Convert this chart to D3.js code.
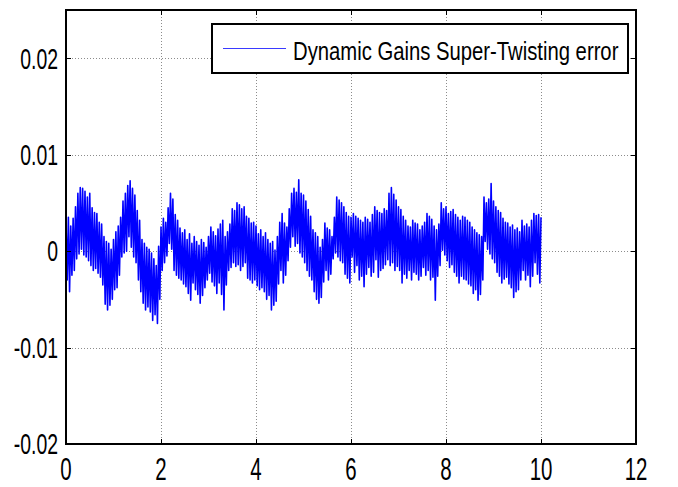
<!DOCTYPE html>
<html>
<head>
<meta charset="utf-8">
<script src="https://cdn.jsdelivr.net/npm/d3@7/dist/d3.min.js"></script>
<style>
  html, body { margin: 0; padding: 0; background: #fff; }
  svg { display: block; }
  text { font-family: "Liberation Sans", Arial, sans-serif; fill: #000; }
</style>
</head>
<body>
<svg id="chart" width="678" height="487"></svg>
<script>
// ---- data (values in units of 1e-3) ----
const xTicks = [0, 2, 4, 6, 8, 10, 12];
const xTickLabels = ["0", "2", "4", "6", "8", "10", "12"];
const yTicks = [-0.02, -0.01, 0, 0.01, 0.02];
const yTickLabels = ["-0.02", "-0.01", "0", "0.01", "0.02"];
const legendLabel = "Dynamic Gains Super-Twisting error";
const valueUnit = 1e-3;
const peakPeriod = 0.05; // seconds between successive maxima
// successive local maxima, at t = 0, 0.05, 0.10, ... 10
const upperPeaks = [
  3.0, 3.5, 2.6, 3.4, 4.6,
  6.0, 6.6, 6.5, 6.2, 5.6, 6.0,
  4.5, 4.0, 3.9, 3.0, 2.8,   1.5, 1.0, 0.8, 0.2, 1.2,
  2.0, 2.6, 3.5, 5.2, 6.0,   6.8, 7.3, 6.5, 5.8, 4.2,
  3.2, 1.2, 0.8, 0.4, 0.2,   -0.2, -0.8, -1.5, 0.5, 2.5,
  3.4, 3.0, 4.5, 6.0, 5.4,   3.8, 3.2, 2.4, 1.9, 2.2,
  1.2, 1.8, 0.8, 1.5, 1.0,   0.6, 1.2, 0.9, 0.4, 1.5,
  2.5, 2.0, 1.6, 2.3, 2.8,   3.2, 1.5, 2.0, 2.8, 4.4,
  4.2, 5.0, 4.8, 4.4, 4.6,   3.6, 3.4, 2.9, 3.0, 2.6,
  1.8, 2.2, 1.5, 1.9, 1.2,   0.8, 1.0, 0.1, 1.5, 3.0,
  3.9, 2.9, 2.5, 4.4, 6.0,   6.5, 6.1, 7.4, 6.0, 5.8,
  5.2, 4.3, 3.6, 2.2, 1.9,   1.5, 0.4, 1.2, 2.9, 2.4,
  2.2, 1.5, 3.5, 5.6, 5.3,   5.0, 4.6, 4.0, 3.6, 3.5,
  3.9, 3.6, 3.4, 3.2, 3.0,   3.5, 3.3, 3.0, 3.8, 4.6,
  4.2, 4.0, 3.9, 4.4, 4.2,   6.0, 6.6, 5.9, 5.3, 4.6,
  4.3, 3.6, 3.2, 2.6, 2.5,   3.2, 2.9, 2.8, 2.2, 2.6,
  3.0, 3.9, 3.6, 3.3, 2.6,   2.2, 2.8, 5.0, 4.4, 4.6,
  3.9, 4.1, 4.3, 3.8, 3.5,   3.2, 3.6, 3.5, 3.2, 3.0,
  2.5, 2.2, 1.9, 1.7, 1.5,   5.6, 5.0, 5.4, 7.0, 5.2,
  4.6, 4.2, 4.0, 3.4, 3.0,   2.9, 2.5, 2.7, 2.2, 2.4,
  2.0, 3.2, 2.6, 2.8, 2.5,   3.2, 3.9, 3.7, 3.8, 3.5];
// successive local minima, at t = 0.025, 0.075, ... 9.975
const lowerPeaks = [
  -3.0, -4.2, -2.5, -2.0, -0.8,   -0.3, 0.2, -0.4, -0.6, -1.0,
  -1.5, -2.0, -1.8, -2.3, -2.7,   -3.5, -5.5, -6.1, -5.6, -5.0,
  -4.0, -3.8, -2.5, -0.6, -0.2,   0.0, 1.5, 0.4, -0.6, -1.2,
  -3.0, -4.2, -5.4, -6.1, -5.8,   -6.3, -7.2, -6.6, -7.5, -5.0,
  -2.0, -1.2, -0.5, 0.8, 0.2,     -2.0, -2.5, -2.8, -3.0, -3.4,
  -3.7, -4.4, -5.1, -3.3, -4.0,   -4.5, -5.4, -4.6, -3.8, -3.0,
  -2.3, -3.2, -3.6, -4.4, -3.3,   -4.5, -6.1, -3.5, -2.0, -1.7,
  -1.2, -1.6, -1.4, -2.0, -1.6,   -1.2, -2.8, -3.0, -3.3, -3.0,
  -3.6, -4.0, -3.8, -4.2, -5.0,   -4.6, -6.1, -5.6, -5.2, -3.4,
  -2.0, -3.3, -2.5, -1.0, 0.4,    1.5, 0.5, 0.8, -0.2, -0.6,
  -1.2, -2.0, -2.6, -3.0, -4.2,   -5.0, -5.4, -4.8, -3.2, -2.0,
  -3.0, -2.4, -0.8, -0.2, -0.6,   -1.0, -1.2, -2.4, -2.8, -3.3,
  -0.6, -2.2, -1.5, -3.0, -2.6,   -3.7, -2.4, -1.7, -2.6, -2.2,
  -0.9, -2.7, -2.0, -1.8, -1.4,   -0.9, -1.5, -1.2, -2.0, -1.6,
  -2.0, -3.3, -2.4, -2.8, -2.0,   -3.0, -2.2, -2.4, -3.0, -2.6,
  -1.7, -2.5, -2.0, -3.0, -2.7,   -5.1, -2.6, -1.5, 0.1, -0.4,
  -1.0, -1.7, -1.4, -2.2, -2.6,   -3.3, -2.6, -2.9, -3.0, -3.4,
  -3.6, -4.4, -4.0, -5.1, -4.5,   -3.0, 1.0, 0.2, -0.3, -0.8,
  -1.2, -2.2, -2.6, -3.3, -2.9,   -2.7, -3.4, -3.8, -4.8, -4.2,
  -4.0, -3.0, -2.0, -3.0, -2.5,   -3.7, -2.6, -1.2, -2.4, -3.3];

// ---- build the signal table ----
const signal = [];
upperPeaks.forEach((v, k) => {
  signal.push({ t: k * peakPeriod, v: v * valueUnit });
  if (k < lowerPeaks.length) signal.push({ t: k * peakPeriod + peakPeriod / 2, v: lowerPeaks[k] * valueUnit });
});

// ---- layout ----
const svg = d3.select("#chart");
const L = 66, R = 636, T = 10, B = 444;
const x = d3.scaleLinear().domain([0, 12]).range([L, R]);
const y = d3.scaleLinear().domain([-0.02, 0.025]).range([B, T]);

// grid
const gridX = svg.append("g").attr("transform", `translate(0,${B})`)
  .call(d3.axisBottom(x).tickValues(xTicks.slice(1, -1)).tickSize(-(B - T)).tickFormat(""));
const gridY = svg.append("g").attr("transform", `translate(${L},0)`)
  .call(d3.axisLeft(y).tickValues(yTicks.slice(1)).tickSize(-(R - L)).tickFormat(""));
[gridX, gridY].forEach(g => {
  g.select(".domain").remove();
  g.selectAll("line").attr("stroke", "#8c8c8c").attr("stroke-width", 1).attr("stroke-dasharray", "1,2")
    .attr("shape-rendering", "crispEdges");
});

// signal
svg.append("path")
  .datum(signal)
  .attr("fill", "none")
  .attr("stroke", "#0000ff")
  .attr("stroke-width", 1.6)
  .attr("stroke-linejoin", "round")
  .attr("d", d3.line().x(d => x(d.t)).y(d => y(d.v)));

// ticks (inward on all four sides)
const tk = 5;
const axB = svg.append("g").attr("transform", `translate(0,${B})`)
  .call(d3.axisBottom(x).tickValues(xTicks).tickSize(-tk).tickFormat(""));
const axT = svg.append("g").attr("transform", `translate(0,${T})`)
  .call(d3.axisTop(x).tickValues(xTicks).tickSize(-tk).tickFormat(""));
const axL = svg.append("g").attr("transform", `translate(${L},0)`)
  .call(d3.axisLeft(y).tickValues(yTicks).tickSize(-tk).tickFormat(""));
const axR = svg.append("g").attr("transform", `translate(${R},0)`)
  .call(d3.axisRight(y).tickValues(yTicks).tickSize(-tk).tickFormat(""));
[axB, axT, axL, axR].forEach(g => {
  g.select(".domain").remove();
  g.selectAll("line").attr("stroke", "#000").attr("shape-rendering", "crispEdges");
});

// box
svg.append("rect").attr("x", L).attr("y", T).attr("width", R - L).attr("height", B - T)
  .attr("fill", "none").attr("stroke", "#000").attr("stroke-width", 1.2).attr("shape-rendering", "crispEdges");

// tick labels
svg.append("g").selectAll("text").data(xTicks).join("text")
  .attr("transform", d => `translate(${x(d)},480) scale(0.66,1)`)
  .attr("text-anchor", "middle")
  .attr("font-size", 31)
  .text((d, i) => xTickLabels[i]);
svg.append("g").selectAll("text").data(yTicks).join("text")
  .attr("transform", d => `translate(58,${y(d) + 10.3}) scale(0.67,1)`)
  .attr("text-anchor", "end")
  .attr("font-size", 29)
  .text((d, i) => yTickLabels[i]);

// legend
const lg = svg.append("g");
lg.append("rect").attr("x", 212).attr("y", 24).attr("width", 416).attr("height", 49)
  .attr("fill", "#fff").attr("stroke", "#000").attr("stroke-width", 1.2).attr("shape-rendering", "crispEdges");
lg.append("line").attr("x1", 223).attr("x2", 286).attr("y1", 48.5).attr("y2", 48.5)
  .attr("stroke", "#3a3aff").attr("stroke-width", 1.2);
lg.append("text").attr("transform", "translate(293,60) scale(0.765,1)").attr("font-size", 26.5)
  .text(legendLabel);
</script>
</body>
</html>
